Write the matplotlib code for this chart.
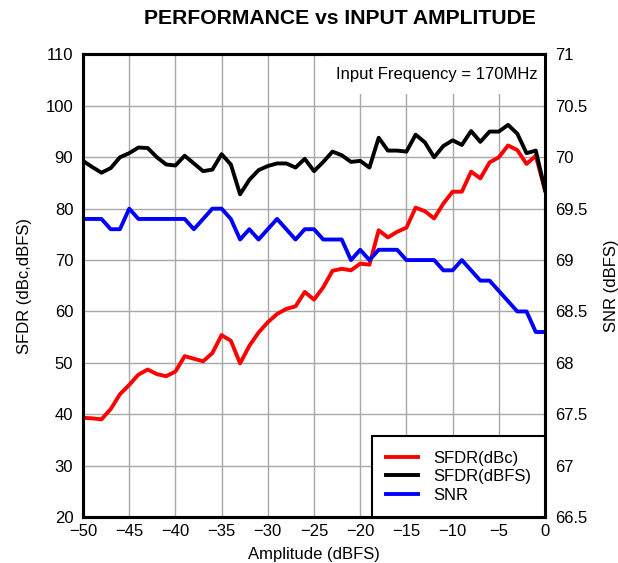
import matplotlib
matplotlib.use('Agg')
import matplotlib.pyplot as plt
from matplotlib.ticker import FuncFormatter

plt.rcParams['font.family'] = ['Liberation Sans', 'DejaVu Sans']

# Amplitude (dBFS), 1 dB steps
amplitude = list(range(-50, 1))

sfdr_dbc = [39.3, 39.2, 39.0, 41.0, 43.9, 45.7, 47.7, 48.7, 47.8, 47.4,
            48.3, 51.3, 50.8, 50.3, 51.9, 55.4, 54.3, 49.9, 53.3, 55.9,
            57.9, 59.5, 60.5, 61.0, 63.8, 62.3, 64.7, 67.9, 68.3, 68.0,
            69.3, 69.1, 75.8, 74.4, 75.5, 76.3, 80.2, 79.5, 78.1, 81.0,
            83.3, 83.3, 87.2, 85.9, 89.0, 90.0, 92.3, 91.4, 88.7, 90.3,
            83.6]

sfdr_dbfs = [89.3, 88.1, 87.0, 87.9, 90.0, 90.8, 91.9, 91.8, 90.0, 88.6,
             88.4, 90.3, 88.8, 87.3, 87.6, 90.6, 88.6, 82.8, 85.6, 87.5,
             88.3, 88.8, 88.8, 88.0, 89.7, 87.3, 89.1, 91.1, 90.4, 89.1,
             89.3, 88.0, 93.8, 91.3, 91.3, 91.1, 94.4, 92.9, 90.0, 92.2,
             93.3, 92.4, 95.1, 93.0, 95.0, 95.0, 96.3, 94.6, 90.8, 91.3,
             83.6]

snr = [69.4, 69.4, 69.4, 69.3, 69.3, 69.5, 69.4, 69.4, 69.4, 69.4,
       69.4, 69.4, 69.3, 69.4, 69.5, 69.5, 69.4, 69.2, 69.3, 69.2,
       69.3, 69.4, 69.3, 69.2, 69.3, 69.3, 69.2, 69.2, 69.2, 69.0,
       69.1, 69.0, 69.1, 69.1, 69.1, 69.0, 69.0, 69.0, 69.0, 68.9,
       68.9, 69.0, 68.9, 68.8, 68.8, 68.7, 68.6, 68.5, 68.5, 68.3,
       68.3]

x_ticks = list(range(-50, 1, 5))
left_ticks = list(range(20, 111, 10))
right_ticks = [66.5, 67, 67.5, 68, 68.5, 69, 69.5, 70, 70.5, 71]

fig = plt.figure(figsize=(6.18, 5.63), dpi=100)
ax = fig.add_axes([0.1343, 0.0817, 0.7476, 0.8215])
ax2 = ax.twinx()

l1, = ax.plot(amplitude, sfdr_dbc, color='#ff0000', lw=2.8, label='SFDR(dBc)')
l2, = ax.plot(amplitude, sfdr_dbfs, color='black', lw=2.8, label='SFDR(dBFS)')
l3, = ax2.plot(amplitude, snr, color='#0000ff', lw=2.8, label='SNR')

ax.set_xlim(-50, 0)
ax.set_ylim(20, 110)
ax.set_xticks(x_ticks)
ax.set_yticks(left_ticks)
ax2.set_ylim(66.5, 71)
ax2.set_yticks(right_ticks)
ax2.yaxis.set_major_formatter(FuncFormatter(lambda v, p: '%g' % v))

ax.grid(True, color='#a8a8a8', lw=1.0)
ax.set_axisbelow(True)

for a in (ax, ax2):
    a.tick_params(length=0, labelsize=12, pad=7)
    for s in a.spines.values():
        s.set_linewidth(2.2)
        s.set_color('black')
ax.tick_params(axis='x', pad=5)

ax.set_xlabel('Amplitude (dBFS)', fontsize=12, labelpad=6)
ax.set_ylabel('SFDR (dBc,dBFS)', fontsize=12, labelpad=10)
ax2.set_ylabel('SNR (dBFS)', fontsize=12, labelpad=12)

fig.text(340 / 618, 1 - 18 / 563, 'PERFORMANCE vs INPUT AMPLITUDE',
         ha='center', va='center', fontsize=15.2, fontweight='bold')

ax2.text(0.983, 0.956, 'Input Frequency = 170MHz', transform=ax2.transAxes,
         ha='right', va='center', fontsize=12, zorder=2.4,
         bbox=dict(facecolor='white', edgecolor='none', pad=8))

leg = ax2.legend(handles=[l1, l2, l3], loc='lower right', bbox_to_anchor=(1, 0),
                 borderaxespad=0, fancybox=False, framealpha=1, edgecolor='black',
                 fontsize=12, handlelength=1.9, labelspacing=0.22,
                 borderpad=0.85, handletextpad=0.9)
leg.get_frame().set_linewidth(1.5)

fig.savefig('out.png', dpi=100)
